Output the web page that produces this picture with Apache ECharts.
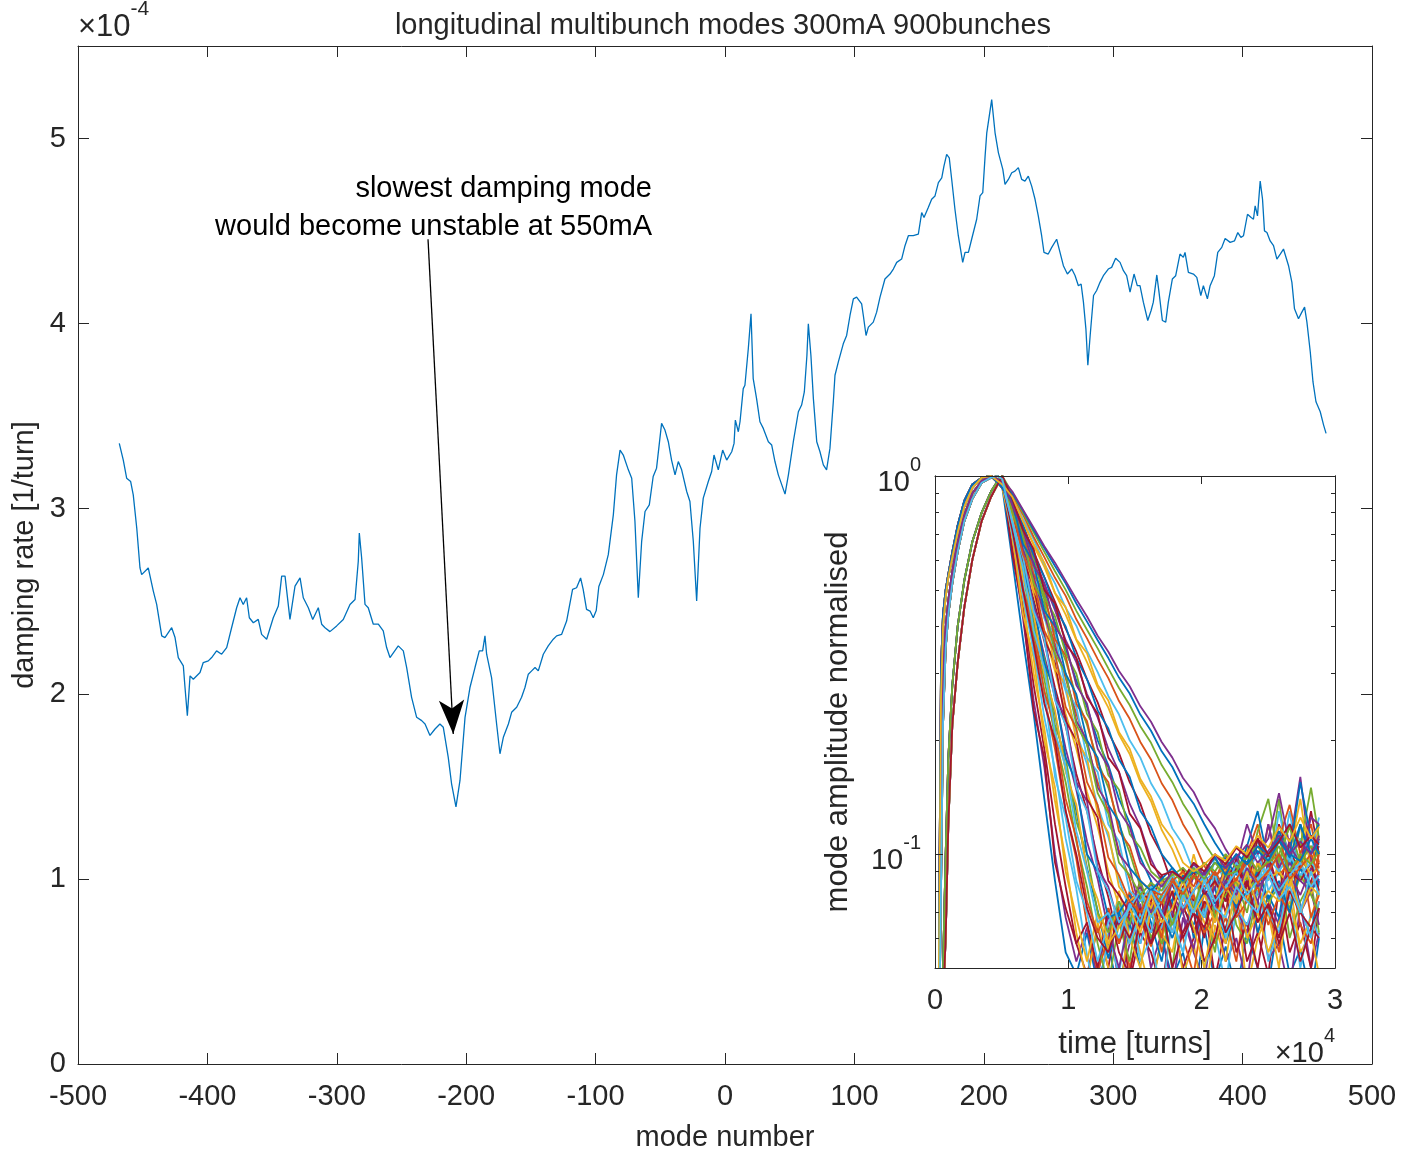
<!DOCTYPE html>
<html>
<head>
<meta charset="utf-8">
<script src="https://cdn.jsdelivr.net/npm/echarts@6/dist/echarts.min.js"></script>
<style>html,body{margin:0;padding:0;background:#fff}#c{width:1402px;height:1157px}</style>
</head>
<body>
<div id="c"></div>
<script>
// ---------- main plot data: damping rate (units of 1e-4 1/turn) vs mode number ----------
const modeNumber = [
-468.1,-465.0,-462.4,-459.3,-457.3,-454.6,-452.1,-450.8,-445.7,-441.8,-439.2,-435.3,-432.8,-427.6,-425.0,-422.5,-418.6,-417.3,-415.5,-413.4,
-410.9,-405.7,-403.2,-399.3,-396.7,-392.9,-389.0,-385.1,-381.3,-377.4,-374.8,-372.3,-369.7,-367.6,-364.5,-360.7,-358.1,-354.2,-349.1,-345.2,
-342.6,-340.0,-336.2,-332.3,-328.4,-325.9,-322.0,-318.6,-314.3,-311.7,-309.1,-305.3,-300.1,-295.0,-289.8,-285.9,-283.4,-282.6,-280.8,-278.2,
-275.7,-271.8,-267.9,-264.1,-261.5,-258.9,-252.5,-248.6,-246.0,-242.2,-238.3,-234.4,-231.8,-228.0,-224.1,-220.3,-217.7,-213.9,-211.3,-207.9,
-204.8,-200.9,-197.1,-193.2,-189.9,-187.3,-185.5,-184.2,-180.4,-176.5,-173.9,-171.3,-167.4,-164.9,-161.0,-157.2,-154.6,-152.0,-149.4,-146.8,
-144.3,-140.4,-136.6,-132.7,-130.1,-126.3,-122.4,-117.8,-114.7,-111.6,-109.6,-107.0,-104.3,-101.8,-99.5,-97.5,-94.0,-90.2,-86.3,-83.8,
-81.1,-78.6,-74.7,-72.1,-69.6,-67.0,-64.4,-61.8,-58.5,-55.5,-52.9,-49.0,-46.4,-43.8,-41.3,-38.6,-36.1,-33.5,-29.6,-27.1,
-24.5,-21.9,-19.3,-16.8,-12.9,-10.3,-8.5,-5.2,-1.8,1.3,5.2,7.0,8.0,10.3,11.6,14.1,15.4,18.0,20.1,21.8,
24.4,27.0,29.6,33.5,36.1,38.6,41.2,46.4,49.0,52.8,56.7,59.2,61.3,63.3,64.4,66.4,68.3,70.9,73.4,76.0,
78.5,81.1,83.7,85.0,87.6,91.4,94.0,96.6,99.2,101.7,105.6,106.9,109.0,110.8,114.6,117.2,119.8,123.6,127.5,130.1,
132.7,136.5,139.1,141.7,145.5,149.4,152.0,153.8,157.1,159.7,162.3,164.9,167.5,169.2,171.3,173.3,175.2,177.7,180.3,183.7,
185.5,188.1,190.6,194.5,197.1,199.2,201.0,202.3,206.1,208.7,211.3,214.7,216.4,219.0,221.6,224.1,226.7,229.3,231.8,234.4,
237.0,239.6,242.1,244.7,246.5,249.8,252.5,256.3,258.9,261.5,264.6,268.0,270.5,273.1,275.2,277.0,278.9,280.4,282.2,284.8,
287.2,289.8,292.4,296.2,298.8,301.9,305.3,307.9,310.4,313.0,316.1,318.6,320.7,323.3,326.7,329.3,331.0,333.7,335.4,338.0,
340.6,342.6,345.7,348.3,351.6,354.2,355.5,358.1,362.0,364.6,367.7,369.7,372.8,374.9,378.2,380.8,383.9,386.5,390.4,393.7,
396.3,398.7,400.7,403.8,406.6,408.4,409.7,411.5,413.6,415.4,416.9,418.8,421.3,423.9,426.5,429.1,431.6,435.5,438.1,440.1,
443.2,445.8,447.9,449.7,452.3,454.4,456.7,460.0,462.6,464.5
];
const dampingRate = [
3.353,3.263,3.165,3.147,3.075,2.896,2.680,2.644,2.680,2.555,2.483,2.313,2.304,2.357,2.304,2.196,2.151,2.034,1.882,2.097,
2.079,2.115,2.169,2.178,2.196,2.232,2.214,2.250,2.357,2.465,2.519,2.483,2.519,2.411,2.384,2.402,2.321,2.295,2.411,2.474,
2.636,2.636,2.402,2.582,2.626,2.519,2.465,2.402,2.465,2.376,2.357,2.336,2.367,2.402,2.483,2.510,2.716,2.869,2.734,2.483,
2.465,2.376,2.376,2.340,2.250,2.196,2.259,2.232,2.142,1.981,1.873,1.855,1.837,1.775,1.810,1.837,1.819,1.658,1.514,1.389,
1.532,1.873,2.034,2.142,2.232,2.232,2.313,2.214,2.088,1.837,1.676,1.765,1.837,1.900,1.927,1.981,2.034,2.106,2.124,2.142,
2.124,2.214,2.259,2.295,2.313,2.321,2.393,2.564,2.573,2.626,2.564,2.456,2.447,2.411,2.450,2.580,2.644,2.752,2.967,3.183,
3.317,3.290,3.210,3.165,2.932,2.519,2.824,2.985,3.021,3.174,3.219,3.461,3.425,3.362,3.263,3.183,3.255,3.210,3.093,3.039,
2.824,2.501,2.896,3.057,3.147,3.201,3.290,3.210,3.317,3.263,3.308,3.353,3.479,3.416,3.470,3.649,3.667,3.864,4.053,3.703,
3.595,3.470,3.434,3.362,3.344,3.255,3.183,3.079,3.183,3.362,3.524,3.560,3.631,3.828,3.999,3.828,3.595,3.362,3.308,3.237,
3.210,3.326,3.578,3.721,3.793,3.891,3.936,4.044,4.134,4.143,4.107,4.044,3.936,3.981,4.008,4.062,4.143,4.241,4.268,4.295,
4.331,4.349,4.421,4.475,4.475,4.483,4.600,4.573,4.627,4.672,4.690,4.762,4.788,4.851,4.914,4.896,4.779,4.618,4.475,4.331,
4.385,4.385,4.456,4.564,4.690,4.708,4.905,5.031,5.210,5.031,4.923,4.833,4.752,4.779,4.815,4.824,4.843,4.779,4.770,4.797,
4.743,4.672,4.582,4.475,4.385,4.376,4.412,4.456,4.385,4.313,4.268,4.295,4.260,4.205,4.214,4.116,3.972,3.775,3.936,4.152,
4.179,4.223,4.259,4.295,4.304,4.353,4.331,4.286,4.259,4.170,4.268,4.205,4.205,4.116,4.017,4.071,4.116,4.263,4.170,4.017,
4.008,4.116,4.241,4.259,4.376,4.358,4.385,4.277,4.268,4.250,4.152,4.205,4.134,4.205,4.259,4.385,4.412,4.460,4.439,4.447,
4.492,4.466,4.475,4.591,4.573,4.564,4.636,4.582,4.770,4.672,4.501,4.492,4.447,4.421,4.349,4.376,4.403,4.313,4.223,4.080,
4.026,4.062,4.089,4.008,3.847,3.685,3.578,3.524,3.452,3.407
];
const mainXTicks = { min: -500, max: 500, step: 100 };
const mainYTicks = { min: 0, max: 5.5, step: 1 };
// annotation arrow (data coordinates)
const arrowStart = [-229.5, 4.456];
const arrowEnd = [-210.0, 1.783];

// ---------- inset data: normalised mode amplitude vs time [turns] ----------
const insetRiseTurns = [300, 450, 600, 800, 1000, 1300, 1700, 2200, 2800, 3500, 4200, 4700, 5050];
const insetDecayTurns = [5800, 6600, 7400, 8200, 9000, 9800, 10600, 11400, 12200, 13000, 13800, 14600, 15400, 16200, 17000,
  17800, 18600, 19400, 20200, 21000, 21800, 22600, 23400, 24200, 25000, 25800, 26600, 27400, 28200, 28800];
const riseL  = [0.06, 0.31, 0.43, 0.50, 0.55, 0.63, 0.74, 0.86, 0.95, 0.99, 1.00, 0.96, 0.93];
const riseL2 = [0.05, 0.26, 0.40, 0.48, 0.54, 0.61, 0.71, 0.83, 0.93, 0.99, 1.00, 0.97, 0.95];
const riseM  = [0.03, 0.12, 0.30, 0.40, 0.47, 0.56, 0.67, 0.79, 0.90, 0.97, 1.00, 0.98, 0.96];
const riseM2 = [0.03, 0.08, 0.22, 0.35, 0.43, 0.52, 0.63, 0.76, 0.87, 0.96, 0.99, 1.00, 0.98];
const riseR  = [0.02, 0.03, 0.04, 0.06, 0.12, 0.22, 0.32, 0.45, 0.60, 0.76, 0.88, 0.95, 1.00];
const riseR2 = [0.02, 0.03, 0.05, 0.10, 0.18, 0.28, 0.40, 0.53, 0.67, 0.80, 0.91, 0.97, 1.00];
const insetRiseOrder = [riseL, riseM, riseR, riseL2, riseM2, riseR2];
const insetDecay = [
 [0.6,0.37,0.235,0.14,0.085,0.055,0.048,0.062,0.045,0.058,0.042,0.066,0.05,0.044,0.06,0.047,0.055,0.04,0.064,0.046,0.057,0.043,0.062,0.05,0.045,0.068,0.048,0.056,0.042,0.06],
 [0.65,0.42,0.255,0.17,0.1,0.068,0.052,0.064,0.047,0.07,0.045,0.058,0.074,0.05,0.062,0.044,0.068,0.055,0.046,0.072,0.052,0.06,0.045,0.076,0.053,0.058,0.043,0.074,0.05,0.062],
 [0.67,0.45,0.28,0.19,0.12,0.082,0.058,0.048,0.064,0.05,0.075,0.046,0.062,0.055,0.044,0.068,0.05,0.06,0.074,0.047,0.064,0.078,0.052,0.062,0.048,0.082,0.055,0.066,0.05,0.072],
 [0.68,0.47,0.3,0.215,0.138,0.097,0.062,0.046,0.066,0.05,0.04,0.07,0.055,0.043,0.06,0.075,0.048,0.058,0.04,0.065,0.052,0.078,0.044,0.06,0.07,0.05,0.085,0.055,0.062,0.048],
 [0.71,0.48,0.345,0.23,0.168,0.11,0.081,0.054,0.04,0.062,0.048,0.075,0.052,0.06,0.042,0.068,0.055,0.08,0.05,0.062,0.045,0.072,0.06,0.09,0.052,0.066,0.078,0.05,0.07,0.06],
 [0.73,0.51,0.375,0.26,0.19,0.13,0.097,0.065,0.049,0.06,0.072,0.05,0.065,0.085,0.055,0.07,0.06,0.048,0.075,0.058,0.068,0.052,0.08,0.062,0.072,0.055,0.09,0.065,0.058,0.075],
 [0.74,0.55,0.385,0.29,0.205,0.155,0.108,0.082,0.058,0.045,0.066,0.052,0.078,0.06,0.07,0.05,0.082,0.062,0.072,0.055,0.09,0.065,0.058,0.08,0.07,0.095,0.06,0.075,0.085,0.062],
 [0.76,0.56,0.415,0.31,0.235,0.168,0.13,0.092,0.071,0.053,0.07,0.058,0.08,0.066,0.052,0.075,0.088,0.06,0.07,0.082,0.058,0.072,0.09,0.062,0.078,0.068,0.1,0.072,0.06,0.085],
 [0.77,0.58,0.44,0.335,0.26,0.19,0.148,0.108,0.086,0.063,0.05,0.068,0.058,0.075,0.062,0.09,0.07,0.056,0.08,0.066,0.095,0.072,0.062,0.085,0.075,0.065,0.09,0.07,0.08,0.065],
 [0.79,0.6,0.47,0.365,0.275,0.218,0.163,0.13,0.097,0.077,0.058,0.07,0.085,0.062,0.078,0.068,0.092,0.075,0.06,0.088,0.07,0.098,0.08,0.066,0.09,0.078,0.11,0.07,0.085,0.095],
 [0.8,0.63,0.49,0.385,0.305,0.235,0.19,0.146,0.118,0.09,0.073,0.058,0.068,0.082,0.07,0.09,0.075,0.1,0.08,0.068,0.092,0.078,0.105,0.082,0.072,0.098,0.085,0.12,0.078,0.09],
 [0.81,0.65,0.515,0.425,0.33,0.27,0.21,0.173,0.134,0.111,0.086,0.071,0.058,0.072,0.064,0.085,0.075,0.092,0.068,0.1,0.082,0.074,0.095,0.11,0.08,0.09,0.13,0.085,0.1,0.078],
 [0.82,0.67,0.545,0.44,0.36,0.292,0.235,0.195,0.155,0.13,0.102,0.086,0.067,0.057,0.07,0.062,0.08,0.09,0.072,0.085,0.1,0.078,0.09,0.082,0.12,0.088,0.095,0.11,0.08,0.1],
 [0.84,0.69,0.565,0.47,0.385,0.325,0.26,0.22,0.176,0.15,0.12,0.101,0.082,0.07,0.058,0.066,0.078,0.07,0.088,0.075,0.095,0.085,0.1,0.078,0.092,0.14,0.085,0.098,0.088,0.11],
 [0.85,0.71,0.595,0.5,0.41,0.35,0.288,0.245,0.2,0.172,0.14,0.121,0.098,0.085,0.07,0.06,0.072,0.065,0.08,0.09,0.075,0.095,0.085,0.11,0.09,0.1,0.088,0.12,0.095,0.105],
 [0.86,0.73,0.61,0.52,0.442,0.368,0.322,0.265,0.23,0.19,0.165,0.136,0.118,0.097,0.085,0.07,0.062,0.075,0.068,0.082,0.09,0.08,0.1,0.088,0.12,0.092,0.105,0.16,0.095,0.11],
 [0.86,0.74,0.63,0.54,0.465,0.395,0.343,0.29,0.252,0.21,0.185,0.155,0.136,0.113,0.1,0.083,0.073,0.062,0.075,0.07,0.085,0.095,0.082,0.11,0.09,0.12,0.1,0.092,0.13,0.1],
 [0.87,0.76,0.655,0.575,0.49,0.43,0.368,0.322,0.276,0.244,0.207,0.184,0.155,0.138,0.116,0.103,0.088,0.078,0.066,0.06,0.07,0.085,0.075,0.095,0.088,0.11,0.1,0.14,0.09,0.12],
 [0.88,0.77,0.68,0.585,0.52,0.448,0.402,0.345,0.303,0.262,0.234,0.2,0.18,0.154,0.138,0.117,0.106,0.09,0.081,0.07,0.062,0.08,0.09,0.1,0.085,0.13,0.095,0.11,0.1,0.125],
 [0.89,0.79,0.69,0.61,0.538,0.482,0.418,0.372,0.328,0.292,0.254,0.228,0.198,0.178,0.154,0.139,0.12,0.108,0.093,0.084,0.075,0.085,0.1,0.12,0.09,0.11,0.135,0.1,0.12,0.095],
 [0.9,0.8,0.71,0.63,0.56,0.5,0.44,0.392,0.35,0.31,0.275,0.248,0.218,0.197,0.172,0.155,0.136,0.123,0.107,0.097,0.09,0.1,0.085,0.115,0.14,0.095,0.12,0.105,0.15,0.11],
 [0.9,0.81,0.72,0.645,0.578,0.52,0.46,0.412,0.368,0.33,0.293,0.266,0.234,0.212,0.187,0.17,0.149,0.136,0.12,0.107,0.097,0.088,0.105,0.13,0.095,0.115,0.1,0.155,0.11,0.12],
 [0.91,0.815,0.73,0.652,0.59,0.528,0.472,0.425,0.378,0.343,0.305,0.278,0.246,0.224,0.198,0.18,0.159,0.146,0.128,0.117,0.103,0.093,0.12,0.1,0.11,0.145,0.105,0.095,0.125,0.12],
 [0.62,0.44,0.24,0.18,0.095,0.072,0.058,0.066,0.05,0.072,0.055,0.048,0.068,0.058,0.076,0.05,0.062,0.07,0.052,0.06,0.08,0.055,0.066,0.05,0.074,0.058,0.07,0.052,0.064,0.06],
 [0.7,0.43,0.33,0.2,0.15,0.09,0.068,0.052,0.07,0.056,0.08,0.06,0.05,0.072,0.062,0.055,0.078,0.064,0.05,0.07,0.058,0.085,0.06,0.07,0.055,0.066,0.075,0.058,0.068,0.08],
 [0.7,0.52,0.34,0.27,0.16,0.125,0.085,0.07,0.052,0.066,0.075,0.058,0.07,0.062,0.085,0.066,0.055,0.075,0.068,0.09,0.06,0.072,0.065,0.08,0.07,0.062,0.09,0.072,0.06,0.075],
 [0.75,0.5,0.4,0.27,0.215,0.14,0.11,0.075,0.062,0.072,0.058,0.08,0.066,0.075,0.06,0.088,0.07,0.078,0.062,0.07,0.095,0.068,0.075,0.082,0.065,0.078,0.07,0.1,0.068,0.078],
 [0.74,0.58,0.4,0.33,0.22,0.18,0.122,0.1,0.07,0.062,0.075,0.065,0.085,0.07,0.078,0.065,0.08,0.072,0.09,0.068,0.078,0.085,0.07,0.095,0.075,0.082,0.072,0.088,0.078,0.07],
 [0.79,0.56,0.46,0.32,0.27,0.18,0.155,0.1,0.09,0.068,0.07,0.078,0.065,0.082,0.07,0.076,0.088,0.07,0.08,0.074,0.085,0.072,0.08,0.09,0.076,0.085,0.07,0.092,0.08,0.086],
 [0.77,0.63,0.45,0.38,0.26,0.23,0.155,0.138,0.092,0.082,0.065,0.075,0.082,0.07,0.085,0.078,0.07,0.088,0.08,0.072,0.09,0.08,0.085,0.075,0.095,0.082,0.088,0.078,0.092,0.085],
 [0.82,0.6,0.51,0.37,0.32,0.225,0.2,0.14,0.125,0.085,0.078,0.07,0.08,0.075,0.088,0.072,0.082,0.09,0.078,0.085,0.075,0.092,0.082,0.088,0.1,0.08,0.09,0.085,0.095,0.08],
 [0.8,0.67,0.5,0.44,0.31,0.28,0.2,0.18,0.128,0.114,0.082,0.075,0.08,0.072,0.085,0.078,0.09,0.08,0.086,0.075,0.092,0.085,0.08,0.095,0.086,0.09,0.082,0.1,0.088,0.092],
 [0.84,0.65,0.56,0.42,0.38,0.275,0.245,0.18,0.165,0.12,0.108,0.08,0.075,0.082,0.078,0.088,0.08,0.092,0.085,0.09,0.08,0.095,0.088,0.085,0.098,0.09,0.1,0.088,0.095,0.09],
 [0.83,0.7,0.55,0.49,0.37,0.335,0.25,0.225,0.17,0.155,0.115,0.105,0.085,0.08,0.078,0.085,0.09,0.082,0.095,0.088,0.092,0.085,0.1,0.09,0.095,0.11,0.09,0.098,0.105,0.092],
 [0.86,0.7,0.6,0.48,0.425,0.34,0.3,0.235,0.21,0.162,0.148,0.113,0.104,0.09,0.085,0.088,0.092,0.086,0.095,0.09,0.1,0.092,0.098,0.105,0.095,0.1,0.118,0.095,0.105,0.1],
 [0.85,0.74,0.62,0.54,0.45,0.4,0.33,0.29,0.24,0.215,0.178,0.16,0.13,0.118,0.1,0.092,0.085,0.09,0.088,0.095,0.092,0.1,0.095,0.105,0.1,0.11,0.098,0.12,0.1,0.108],
 [0.83,0.64,0.54,0.43,0.35,0.3,0.225,0.2,0.15,0.135,0.1,0.092,0.07,0.078,0.068,0.085,0.072,0.08,0.09,0.075,0.085,0.078,0.092,0.082,0.088,0.078,0.095,0.085,0.08,0.09],
 [0.72,0.5,0.36,0.25,0.2,0.13,0.1,0.072,0.06,0.055,0.068,0.06,0.072,0.058,0.066,0.08,0.06,0.07,0.064,0.078,0.062,0.07,0.085,0.066,0.074,0.06,0.08,0.07,0.064,0.072],
 [0.78,0.54,0.43,0.3,0.24,0.165,0.135,0.09,0.076,0.058,0.064,0.072,0.062,0.078,0.066,0.072,0.085,0.07,0.078,0.066,0.082,0.074,0.09,0.072,0.08,0.075,0.088,0.07,0.082,0.078],
 [0.76,0.61,0.44,0.37,0.255,0.22,0.15,0.13,0.09,0.08,0.066,0.072,0.08,0.068,0.076,0.085,0.072,0.08,0.088,0.075,0.082,0.09,0.078,0.085,0.092,0.08,0.088,0.095,0.082,0.088],
 [0.81,0.62,0.53,0.39,0.34,0.245,0.215,0.155,0.135,0.098,0.088,0.075,0.07,0.08,0.074,0.085,0.078,0.088,0.082,0.09,0.08,0.086,0.095,0.084,0.09,0.1,0.086,0.092,0.1,0.088],
 [0.8,0.68,0.52,0.46,0.34,0.3,0.22,0.195,0.145,0.128,0.095,0.088,0.078,0.084,0.08,0.09,0.084,0.092,0.086,0.095,0.088,0.09,0.1,0.09,0.096,0.105,0.09,0.1,0.094,0.102],
 [0.85,0.66,0.59,0.44,0.4,0.3,0.265,0.2,0.18,0.135,0.122,0.092,0.085,0.08,0.086,0.092,0.085,0.094,0.09,0.098,0.088,0.1,0.094,0.102,0.096,0.108,0.1,0.096,0.11,0.1],
 [0.84,0.72,0.58,0.52,0.4,0.36,0.28,0.25,0.19,0.17,0.13,0.118,0.095,0.088,0.082,0.09,0.086,0.094,0.088,0.1,0.092,0.098,0.106,0.095,0.102,0.112,0.1,0.108,0.1,0.112],
 [0.87,0.72,0.64,0.5,0.46,0.36,0.33,0.26,0.235,0.18,0.165,0.128,0.117,0.094,0.088,0.09,0.086,0.095,0.09,0.1,0.094,0.104,0.098,0.11,0.1,0.108,0.12,0.104,0.112,0.106],
 [0.88,0.76,0.66,0.59,0.49,0.45,0.37,0.34,0.28,0.255,0.21,0.19,0.158,0.142,0.12,0.11,0.095,0.09,0.094,0.1,0.096,0.105,0.1,0.112,0.104,0.118,0.108,0.125,0.11,0.118],
 [0.75,0.57,0.39,0.31,0.21,0.17,0.115,0.09,0.066,0.07,0.06,0.074,0.066,0.08,0.07,0.062,0.078,0.07,0.085,0.072,0.068,0.082,0.075,0.07,0.088,0.076,0.082,0.07,0.09,0.078]
];
const insetYMajor = [0.1, 1];
const insetYMinor = [0.05, 0.06, 0.07, 0.08, 0.09, 0.2, 0.3, 0.4, 0.5, 0.6, 0.7, 0.8, 0.9];
const insetXTicks = { min: 0, max: 30000, step: 10000 };

// ---------- styling ----------
const AX = '#262626';
const FONT = '"Liberation Sans", Arial, Helvetica, sans-serif';
const FS = 29;
const matlabColors = ['#0072BD', '#D95319', '#EDB120', '#7E2F8E', '#77AC30', '#4DBEEE', '#A2142F'];

function axisBase(extra) {
  return Object.assign({
    axisLine: { show: true, onZero: false, lineStyle: { color: AX, width: 1 } },
    splitLine: { show: false },
    axisLabel: { show: false },
  }, extra);
}

const chart = echarts.init(document.getElementById('c'), null, { renderer: 'canvas' });

const insetSeries = insetDecay.map((dec, i) => {
  const rise = insetRiseOrder[i % insetRiseOrder.length];
  const pts = [];
  insetRiseTurns.forEach((t, j) => pts.push([t, rise[j]]));
  insetDecayTurns.forEach((t, j) => { if (j < dec.length) pts.push([t, dec[j]]); });
  return {
    type: 'line', xAxisIndex: 2, yAxisIndex: 2, data: pts,
    showSymbol: false, symbol: 'none', clip: true, silent: true,
    lineStyle: { width: 1.8, color: matlabColors[(i * 3) % matlabColors.length] },
    z: 5
  };
});

const supRich = {
  b: { fontSize: FS, fontFamily: FONT, color: AX, verticalAlign: 'bottom', lineHeight: 42 },
  s: { fontSize: 20, fontFamily: FONT, color: AX, verticalAlign: 'top', lineHeight: 42 }
};

const option = {
  animation: false,
  backgroundColor: '#fff',
  grid: [
    { left: 78, top: 46, width: 1294, height: 1022, show: false },
    { left: 935, top: 476, width: 400, height: 492, show: true, backgroundColor: '#fff', borderWidth: 0, z: 3 }
  ],
  xAxis: [
    axisBase({
      gridIndex: 0, type: 'value', position: 'bottom',
      min: mainXTicks.min, max: mainXTicks.max, interval: mainXTicks.step,
      axisTick: { show: true, inside: true, length: 11, lineStyle: { color: AX } },
      axisLabel: { show: true, color: AX, fontSize: FS, fontFamily: FONT, margin: 18 },
      name: 'mode number', nameLocation: 'middle', nameGap: 59,
      nameTextStyle: { color: AX, fontSize: FS, fontFamily: FONT }
    }),
    axisBase({
      gridIndex: 0, type: 'value', position: 'top',
      min: mainXTicks.min, max: mainXTicks.max, interval: mainXTicks.step,
      axisTick: { show: true, inside: true, length: 11, lineStyle: { color: AX } }
    }),
    axisBase({
      gridIndex: 1, type: 'value', position: 'bottom',
      min: insetXTicks.min, max: insetXTicks.max, interval: insetXTicks.step,
      axisTick: { show: true, inside: true, length: 8, lineStyle: { color: AX } },
      axisLabel: { show: true, color: AX, fontSize: FS, fontFamily: FONT, margin: 18,
        formatter: v => String(Math.round(v / 10000)) },
      name: 'time [turns]', nameLocation: 'middle', nameGap: 61,
      nameTextStyle: { color: AX, fontSize: 31, fontFamily: FONT },
      z: 6
    }),
    axisBase({
      gridIndex: 1, type: 'value', position: 'top',
      min: insetXTicks.min, max: insetXTicks.max, interval: insetXTicks.step,
      axisTick: { show: true, inside: true, length: 8, lineStyle: { color: AX } },
      z: 6
    })
  ],
  yAxis: [
    axisBase({
      gridIndex: 0, type: 'value', position: 'left',
      min: mainYTicks.min, max: mainYTicks.max, interval: mainYTicks.step,
      axisTick: { show: true, inside: true, length: 11, lineStyle: { color: AX } },
      axisLabel: { show: true, color: AX, fontSize: FS, fontFamily: FONT, margin: 12,
        formatter: v => (Math.abs(v - Math.round(v)) < 1e-9 ? String(Math.round(v)) : '') }
    }),
    axisBase({
      gridIndex: 0, type: 'value', position: 'right',
      min: mainYTicks.min, max: mainYTicks.max, interval: mainYTicks.step,
      axisTick: { show: true, inside: true, length: 11, lineStyle: { color: AX } }
    }),
    axisBase({
      gridIndex: 1, type: 'log', logBase: 10, position: 'left', min: 0.05, max: 1,
      axisTick: { show: true, inside: true, length: 8, lineStyle: { color: AX }, customValues: insetYMajor },
      axisLabel: { show: true, margin: 14, customValues: insetYMajor,
        formatter: v => '{b|10}{s|' + Math.round(Math.log10(v)) + '}', rich: supRich },
      z: 6
    }),
    axisBase({
      gridIndex: 1, type: 'log', logBase: 10, position: 'left', min: 0.05, max: 1,
      axisTick: { show: true, inside: true, length: 4, lineStyle: { color: AX }, customValues: insetYMinor },
      z: 6
    }),
    axisBase({
      gridIndex: 1, type: 'log', logBase: 10, position: 'right', min: 0.05, max: 1,
      axisTick: { show: true, inside: true, length: 8, lineStyle: { color: AX }, customValues: insetYMajor },
      z: 6
    }),
    axisBase({
      gridIndex: 1, type: 'log', logBase: 10, position: 'right', min: 0.05, max: 1,
      axisTick: { show: true, inside: true, length: 4, lineStyle: { color: AX }, customValues: insetYMinor },
      z: 6
    })
  ],
  series: [
    {
      type: 'line', xAxisIndex: 0, yAxisIndex: 0,
      data: modeNumber.map((m, i) => [m, dampingRate[i]]),
      showSymbol: false, symbol: 'none', silent: true,
      lineStyle: { color: '#0072BD', width: 1.3 },
      markLine: {
        silent: true, symbol: ['none', 'arrow'], symbolSize: 24,
        label: { show: false },
        lineStyle: { color: '#000', width: 1.3, type: 'solid' },
        itemStyle: { color: '#000' },
        data: [[
          { coord: arrowStart, symbol: 'none' },
          { coord: arrowEnd, symbol: 'arrow', symbolSize: [19, 34] }
        ]]
      },
      z: 2
    }
  ].concat(insetSeries),
  graphic: [
    { type: 'text', x: 723, y: 26, z: 10,
      style: { text: 'longitudinal multibunch modes 300mA 900bunches', fill: AX, fontSize: FS, fontFamily: FONT, align: 'center', verticalAlign: 'middle' } },
    { type: 'text', x: 78, y: 43, z: 10,
      style: { text: '{a|\u00d710}{b|-4}', align: 'left', verticalAlign: 'bottom',
        rich: { a: { fontSize: 31, fontFamily: FONT, fill: AX, color: AX, verticalAlign: 'bottom', lineHeight: 44 },
                b: { fontSize: 21, fontFamily: FONT, fill: AX, color: AX, verticalAlign: 'top', lineHeight: 44 } } } },
    { type: 'text', x: 25, y: 555, rotation: Math.PI / 2, z: 10,
      style: { text: 'damping rate [1/turn]', fill: AX, fontSize: FS, fontFamily: FONT, align: 'center', verticalAlign: 'middle' } },
    { type: 'text', x: 652, y: 189, z: 10,
      style: { text: 'slowest damping mode', fill: '#000', fontSize: FS, fontFamily: FONT, align: 'right', verticalAlign: 'middle' } },
    { type: 'text', x: 652, y: 227, z: 10,
      style: { text: 'would become unstable at 550mA', fill: '#000', fontSize: FS, fontFamily: FONT, align: 'right', verticalAlign: 'middle' } },
    { type: 'text', x: 838, y: 722, rotation: Math.PI / 2, z: 10,
      style: { text: 'mode amplitude normalised', fill: AX, fontSize: 31, fontFamily: FONT, align: 'center', verticalAlign: 'middle' } },
    { type: 'text', x: 1335, y: 1068, z: 10,
      style: { text: '{a|\u00d710}{b|4}', align: 'right', verticalAlign: 'bottom',
        rich: { a: { fontSize: FS, fontFamily: FONT, fill: AX, color: AX, verticalAlign: 'bottom', lineHeight: 42 },
                b: { fontSize: 20, fontFamily: FONT, fill: AX, color: AX, verticalAlign: 'top', lineHeight: 42 } } } }
  ]
};
chart.setOption(option);
</script>
</body>
</html>
